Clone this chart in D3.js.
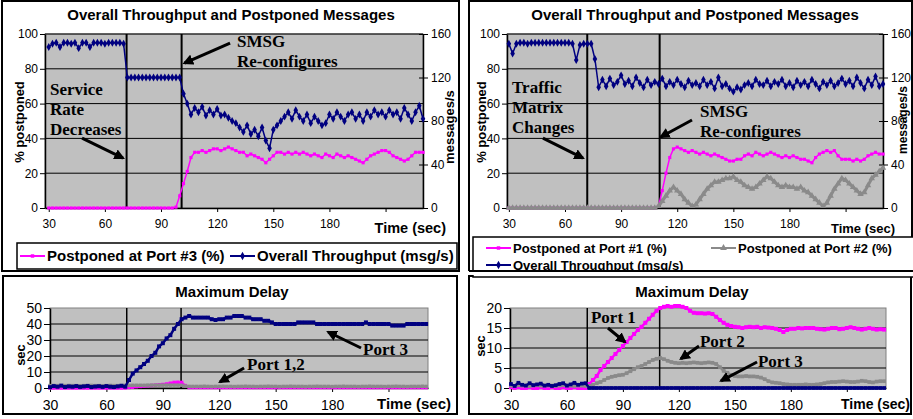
<!DOCTYPE html>
<html>
<head>
<meta charset="utf-8">
<script src="https://cdn.jsdelivr.net/npm/d3@7"></script>
<style>
  body { margin: 0; background: #fff; }
  svg { display: block; }
  .ann { font-family: "Liberation Serif", "Times New Roman", serif; font-weight: bold; font-size: 17px; }
</style>
</head>
<body>
<svg id="chart" width="913" height="419"></svg>
<script>
// sampled every 2 s, starting at t = 30 s
const tStart = 30, tStep = 2;
const xTicks = [30, 60, 90, 120, 150, 180, 210];
const xTickLabels = [30, 60, 90, 120, 150, 180];

// top left: service rate decreases
const tlThroughput = [
  148,151,152,148,152,152,151,152,147,152,
  152,148,152,152,152,151,152,152,152,152,
  151,120,120,120,120,120,120,120,120,120,
  120,120,120,120,120,120,105,96,86,92,
  88,93,85,90,86,91,85,86,83,80,
  78,74,70,76,68,72,66,74,62,55,
  72,76,80,84,88,82,90,84,80,86,
  78,84,80,76,78,86,82,88,84,80,
  86,88,82,86,80,88,84,90,86,88,
  84,90,86,88,82,92,86,80,88,94,
  82];
const tlPort3Pct = [
  0,0,0,0,0,0,0,0,0,0,
  0,0,0,0,0,0,0,0,0,0,
  0,0,0,0,0,0,0,0,0,0,
  0,0,0,0,0.5,7,14,21,29,32,
  32,33,32,33,34,34,33,34,35,34,
  33,32,32,30,31,30,29,28,26,28,
  30,32,32,31,32,31,32,31,32,31,
  30,31,30,29,31,30,29,31,30,29,
  30,29,28,27,26,28,30,31,32,33,
  33,32,30,29,28,27,28,30,32,32,
  32];

// top right: traffic matrix changes
const trThroughput = [
  151,142,151,152,152,151,152,152,152,152,
  152,152,152,152,152,152,152,151,136,150,
  151,151,151,137,111,118,112,119,113,116,
  122,114,117,112,120,115,111,118,113,116,
  114,119,112,116,113,118,114,111,117,113,
  115,112,118,113,116,110,120,112,114,110,
  107,111,109,113,115,112,118,114,113,117,
  112,116,114,118,112,115,111,117,113,116,
  112,118,114,110,116,113,117,112,115,119,
  114,117,112,120,115,110,118,113,121,112,
  114];
const trPort1Pct = [
  0,0,0,0,0,0,0,0,0,0,
  0,0,0,0,0,0,0,0,0,0,
  0,0,0,0,0,0,0,0,0,0,
  0,0,0,0,0,0,0,0,0,0,
  1,10,20,29,34,35,34,33,32,33,
  32,31,32,31,30,31,30,29,28,27,
  27,28,28,30,31,30,32,31,30,31,
  32,31,30,29,30,29,30,29,28,28,
  27,26,29,31,32,33,32,33,30,28,
  28,28,27,28,27,28,30,31,32,31,
  31];
const trPort2Pct = [
  0,0,0,0,0,0,0,0,0,0,
  0,0,0,0,0,0,0,0,0,0,
  0,0,0,0,0,0,0,0,0,0,
  0,0,0,0,0,0,0,0,0,0,
  1,4,7,10,12,10,8,5,3,1,
  2,5,8,11,13,15,15,16,17,17,
  18,16,15,13,12,11,12,14,16,18,
  17,15,13,12,13,12,12,11,12,10,
  9,7,5,3,1,3,7,11,14,17,
  16,14,12,10,8,9,13,17,19,21,
  23];

// bottom left: maximum delay (sec)
const blPort1Delay = [
  0,0,0,0,0,0,0,0,0,0,
  0,0,0,0,0,0,0,0,0,0,
  0,0.3,0.5,0.8,1,1.2,1.4,1.6,1.8,2,
  2.2,2.5,3,3.5,3.6,3.5,1.5,0.3,0.3,0.3,
  0.3,0.3,0.3,0.3,0.3,0.3,0.3,0.3,0.3,0.3,
  0.3,0.3,0.3,0.3,0.3,0.3,0.3,0.3,0.3,0.3,
  0.3,0.3,0.3,0.3,0.3,0.3,0.3,0.3,0.3,0.3,
  0.3,0.3,0.3,0.3,0.3,0.3,0.3,0.3,0.3,0.3,
  0.3,0.3,0.3,0.3,0.3,0.3,0.3,0.3,0.3,0.3,
  0.3,0.3,0.3,0.3,0.3,0.3,0.3,0.3,0.3,0.3,
  0.3];
const blPort2Delay = [
  1.5,1.6,1.5,1.4,1.5,1.6,1.5,1.5,1.4,1.5,
  1.5,1.6,1.5,1.5,1.4,1.5,1.6,1.5,1.5,1.5,
  1.6,1.6,1.7,1.7,1.7,1.7,1.8,1.8,1.8,1.8,
  1.8,1.8,1.8,1.8,1.8,1.7,1.2,1,1,1,
  1,1.1,1,0.9,1,1,1.1,1,1,0.9,
  1,1,1.1,1,1,0.9,1,1,1.1,1,
  1,0.9,1,1,1.1,1,1,1,0.9,1,
  1,1.1,1,1,1,0.9,1,1,1.1,1,
  1,1,0.9,1,1,1.1,1,1,1,0.9,
  1,1,1.1,1,1,0.9,1,1,1,1.1,
  1];
const blPort3Delay = [
  0.5,1.2,0.8,1.5,0.6,1,0.8,1.2,0.7,1,
  1.3,0.6,0.9,1.1,0.7,1.2,0.8,0.6,1,1.4,
  0.8,5,9,11,13,15,17,20,22,26,
  28,31,33,37,40,43,44,45,44,44,
  44,44,44,43,42.5,43,43,44,44,45,
  45,45,44,44,43,43,43,42,42,41,
  40,40,40,40,40,40,41,41,41,41,
  41,40,40,40,40,40,40,40,40,40,
  40,40,40,40,41,40,40,40,40,40,
  40,39,39,39,39,40,40,40,40,40,
  40];

// bottom right: maximum delay (sec)
const brPort1Delay = [
  0.2,0,0.2,0,0,0.2,0,0,0.2,0,
  0,0.2,0,0,0.2,0,0,0.2,0,0,
  0,1,2,3,4.5,5.5,6.5,7.5,8.5,9.5,
  10.5,11.5,12.5,13.5,14.5,15.3,16.3,17.3,18.3,19.3,
  20,20.3,20.5,20.3,20.5,20.5,20.3,20,19.3,18.8,
  18.7,18.7,18.6,18.7,18.5,17.8,17,16.3,15.8,15.5,
  15.3,15.2,15,15.2,15.3,15.2,15.3,15,15.2,15.1,
  15,14.8,14.5,14,14.5,14.8,14.8,15,14.9,15,
  15,15,14.8,14.7,14.6,14.8,15,15,14.7,14.8,
  15,15.2,15,14.8,14.6,14.8,15,14.8,14.6,14.7,
  14.6];
const brPort2Delay = [
  0.6,0.5,0.7,0.6,0.6,0.5,0.6,0.7,0.6,0.6,
  0.6,0.6,0.5,0.6,0.7,0.6,0.6,0.5,0.6,0.6,
  0.5,0.5,0.8,1.2,1.5,2,2.5,2.8,3,3.2,
  3.3,3.7,4.2,4.7,5.2,5.5,6,6.5,7,7.3,
  7.5,7.2,6.8,6.5,6.3,6.2,6.3,6.2,6.3,6.4,
  6.3,6.2,6.3,6.4,6.3,6,5.2,4.3,3.8,3.3,
  3,2.9,2.9,3,2.9,2.9,2.8,2.6,2.2,1.7,
  1.4,1.3,1.2,1,0.9,0.8,0.8,0.8,0.8,0.9,
  0.8,0.8,0.9,1,1.2,1.4,1.5,1.5,1.6,1.7,
  1.6,1.5,1.5,1.6,1.8,1.7,1.5,1.4,1.6,1.7,
  1.7];
const brPort3Delay = [
  1,0.5,1.3,0.8,0.6,1.2,0.7,0.9,1.1,0.6,
  0.8,0.5,0.7,1,1.2,0.6,0.9,1.3,0.8,1.1,
  1.2,0,0,0,0,0,0,0,0,0,
  0,0,0,0,0,0,0,0,0,0,
  0,0,0,0,0,0,0,0,0,0,
  0,0,0,0,0,0,0,0,0,0,
  0,0,0,0,0,0,0,0,0,0,
  0,0,0,0,0,0,0,0,0,0,
  0,0,0,0,0,0,0,0,0,0,
  0,0,0,0,0,0,0,0,0,0,
  0];

const sans = '"Liberation Sans", Arial, sans-serif';
const MAGENTA = "#ff00ff", NAVY = "#000080", GRAY = "#8a8a8a";

let svg = d3.select("#chart");

svg.append("defs").append("marker")
  .attr("id", "arrow")
  .attr("viewBox", "0 0 10 10")
  .attr("refX", 8).attr("refY", 5)
  .attr("markerWidth", 3.6).attr("markerHeight", 3.6)
  .attr("orient", "auto")
  .append("path").attr("d", "M0,0L10,5L0,10z").attr("fill", "#000");

function panelBox(x, y, w, h) {
  svg.append("rect")
    .attr("x", x).attr("y", y).attr("width", w).attr("height", h)
    .attr("fill", "#fff").attr("stroke", "#000").attr("stroke-width", 2);
}

function drawPlot(p) {
  let g = svg.append("g");
  let x = d3.scaleLinear().domain(p.xDomain).range([p.x0, p.x1]);
  let y = d3.scaleLinear().domain(p.yDomain).range([p.y1, p.y0]);
  let y2 = p.y2Domain ? d3.scaleLinear().domain(p.y2Domain).range([p.y1, p.y0]) : null;

  g.append("rect")
    .attr("x", p.x0).attr("y", p.y0)
    .attr("width", p.x1 - p.x0).attr("height", p.y1 - p.y0)
    .attr("fill", "#c0c0c0").attr("stroke", "#808080");

  g.selectAll(".grid")
    .data(p.yTicks.filter(d => d > p.yDomain[0] && (p.topGrid || d < p.yDomain[1])))
    .join("line")
    .attr("x1", p.x0).attr("x2", p.x1)
    .attr("y1", d => y(d)).attr("y2", d => y(d))
    .attr("stroke", "#000");

  g.selectAll(".event").data(p.events).join("line")
    .attr("x1", d => x(d)).attr("x2", d => x(d))
    .attr("y1", p.y0).attr("y2", p.y1)
    .attr("stroke", "#000").attr("stroke-width", p.eventWidth);

  let left = g.append("g")
    .attr("transform", "translate(" + p.x0 + ",0)")
    .call(d3.axisLeft(y).tickValues(p.yTicks).tickSize(p.tickLen).tickSizeOuter(0).tickPadding(2));
  let bottom = g.append("g")
    .attr("transform", "translate(0," + p.y1 + ")")
    .call(d3.axisBottom(x).tickValues(xTicks).tickSize(4).tickSizeOuter(0).tickPadding(p.xPad)
      .tickFormat(d => xTickLabels.includes(d) ? d : ""));
  let axes = [left, bottom];
  if (y2) {
    let right = g.append("g")
      .attr("transform", "translate(" + p.x1 + ",0)")
      .call(d3.axisRight(y2).tickValues(p.y2Ticks).tickSize(5).tickSizeOuter(0).tickPadding(3));
    right.selectAll(".tick line").attr("x1", -4);
    axes.push(right);
  }
  axes.forEach(a => {
    a.attr("font-family", sans).attr("font-size", p.tickFont);
    a.select(".domain").attr("stroke", "#000").attr("stroke-width", 1.5);
    a.selectAll("text").attr("fill", "#000");
  });
  return {g, x, y, y2};
}

function drawSeries(s, yScale, vals, color, width, symbol, size) {
  let pts = vals.map((v, i) => [tStart + i * tStep, v]);
  let line = d3.line().x(d => s.x(d[0])).y(d => yScale(d[1]));
  s.g.append("path").datum(pts)
    .attr("d", line).attr("fill", "none")
    .attr("stroke", color).attr("stroke-width", width).attr("stroke-linejoin", "round");
  s.g.append("g").selectAll("path").data(pts).join("path")
    .attr("transform", d => "translate(" + s.x(d[0]) + "," + yScale(d[1]) + ")")
    .attr("d", d3.symbol(symbol, size))
    .attr("fill", color);
}

function label(txt, x, y, opts) {
  let t = svg.append("text")
    .attr("x", x).attr("y", y)
    .attr("font-family", sans)
    .attr("font-size", opts.size)
    .attr("font-weight", opts.bold ? "bold" : "normal")
    .attr("text-anchor", opts.anchor || "start")
    .text(txt);
  if (opts.rotate) t.attr("transform", "rotate(-90," + x + "," + y + ")");
  return t;
}

function annotate(s, lines, pos) {
  let t = svg.append("text").attr("class", "ann")
    .attr("x", s.x(pos[0])).attr("y", s.y(pos[1]));
  lines.forEach((l, i) => t.append("tspan").attr("x", s.x(pos[0])).attr("dy", i ? 20 : 0).text(l));
}

function arrow(s, from, to) {
  svg.append("line")
    .attr("x1", s.x(from[0])).attr("y1", s.y(from[1]))
    .attr("x2", s.x(to[0])).attr("y2", s.y(to[1]))
    .attr("stroke", "#000").attr("stroke-width", 3)
    .attr("marker-end", "url(#arrow)");
}

function legendEntry(x, y, color, symbol, size, txt, fontSize) {
  svg.append("line").attr("x1", x).attr("x2", x + 25).attr("y1", y).attr("y2", y)
    .attr("stroke", color).attr("stroke-width", 2);
  svg.append("path").attr("transform", "translate(" + (x + 12.5) + "," + y + ")")
    .attr("d", d3.symbol(symbol, size)).attr("fill", color);
  svg.append("text").attr("x", x + 27).attr("y", y + fontSize * 0.36)
    .attr("font-family", sans).attr("font-size", fontSize).attr("font-weight", "bold")
    .text(txt);
}

// panels
panelBox(2, 1, 457, 270);
panelBox(469, 1, 443, 270);
panelBox(3, 276, 454, 138);
panelBox(469, 276, 442, 138);

// ---- top left
let tl = drawPlot({x0: 45, x1: 423, y0: 34, y1: 208, xDomain: [28, 230],
  yDomain: [0, 100], yTicks: [0, 20, 40, 60, 80, 100], topGrid: true,
  y2Domain: [0, 160], y2Ticks: [0, 40, 80, 120, 160],
  events: [71.6, 101], eventWidth: 2, tickFont: 12, tickLen: 5, xPad: 7});
drawSeries(tl, tl.y, tlPort3Pct, MAGENTA, 1.5, d3.symbolSquare, 10);
drawSeries(tl, tl.y2, tlThroughput, NAVY, 1.5, d3.symbolDiamond, 18);
label("Overall Throughput and Postponed Messages", 231, 20, {size: 15, bold: true, anchor: "middle"});
label("% postponed", 24, 122, {size: 13, bold: true, anchor: "middle", rotate: true});
label("messages/s", 454, 127, {size: 13, bold: true, anchor: "middle", rotate: true});
label("Time (sec)", 446, 233, {size: 14.5, bold: true, anchor: "end"});
annotate(tl, ["SMSG", "Re-configures"], [130.6, 92.5]);
arrow(tl, [126.9, 94.8], [102.5, 83.3]);
annotate(tl, ["Service", "Rate", "Decreases"], [30.7, 65]);
arrow(tl, [47.8, 40.2], [69.7, 28.7]);
svg.append("rect").attr("x", 17).attr("y", 243).attr("width", 440).attr("height", 26)
  .attr("fill", "#fff").attr("stroke", "#000").attr("stroke-width", 1.5);
legendEntry(20, 256, MAGENTA, d3.symbolSquare, 12, "Postponed at Port #3 (%)", 15);
legendEntry(230, 256, NAVY, d3.symbolDiamond, 20, "Overall Throughput (msg/s)", 15);

// ---- top right
let tr = drawPlot({x0: 507, x1: 883, y0: 34, y1: 208, xDomain: [29, 230],
  yDomain: [0, 100], yTicks: [0, 20, 40, 60, 80, 100], topGrid: true,
  y2Domain: [0, 160], y2Ticks: [0, 40, 80, 120, 160],
  events: [71.9, 110.6], eventWidth: 2, tickFont: 12, tickLen: 5, xPad: 7});
drawSeries(tr, tr.y, trPort1Pct, MAGENTA, 1.5, d3.symbolSquare, 10);
drawSeries(tr, tr.y, trPort2Pct, GRAY, 3, d3.symbolTriangle, 18);
drawSeries(tr, tr.y2, trThroughput, NAVY, 1.5, d3.symbolDiamond, 18);
label("Overall Throughput and Postponed Messages", 695, 20, {size: 15, bold: true, anchor: "middle"});
label("% postponed", 486, 122, {size: 13, bold: true, anchor: "middle", rotate: true});
label("messages/s", 907, 120, {size: 12, bold: true, anchor: "middle", rotate: true});
label("Time (sec)", 895, 233, {size: 13, bold: true, anchor: "end"});
annotate(tr, ["Traffic", "Matrix", "Changes"], [31.7, 66]);
arrow(tr, [48.2, 40.2], [69.6, 28.7]);
annotate(tr, ["SMSG", "Re-configures"], [132.2, 52.3]);
arrow(tr, [127.9, 50.6], [111.2, 40.8]);
svg.append("rect").attr("x", 473).attr("y", 237).attr("width", 460).attr("height", 40)
  .attr("fill", "#fff").attr("stroke", "#000").attr("stroke-width", 1.5);
legendEntry(486, 248, MAGENTA, d3.symbolSquare, 12, "Postponed at Port #1 (%)", 13);
legendEntry(711, 248, GRAY, d3.symbolTriangle, 20, "Postponed at Port #2 (%)", 13);
legendEntry(486, 265, NAVY, d3.symbolDiamond, 20, "Overall Throughput (msg/s)", 13);
// cover the legend overflow below the top panels
svg.append("rect").attr("x", 460).attr("y", 271).attr("width", 453).attr("height", 4).attr("fill", "#fff");
svg.append("line").attr("x1", 469).attr("x2", 913).attr("y1", 271).attr("y2", 271)
  .attr("stroke", "#000").attr("stroke-width", 2);

// ---- bottom left
let bl = drawPlot({x0: 50, x1: 428, y0: 308, y1: 388, xDomain: [30, 231],
  yDomain: [0, 50], yTicks: [0, 10, 20, 30, 40, 50], topGrid: false,
  events: [70.8, 99.7], eventWidth: 1.5, tickFont: 14, tickLen: 6, xPad: 8});
drawSeries(bl, bl.y, blPort1Delay, MAGENTA, 2, d3.symbolSquare, 12);
drawSeries(bl, bl.y, blPort2Delay, GRAY, 2, d3.symbolSquare, 12);
drawSeries(bl, bl.y, blPort3Delay, NAVY, 2.5, d3.symbolSquare, 16);
label("Maximum Delay", 232, 297, {size: 15, bold: true, anchor: "middle"});
label("sec", 25, 355, {size: 13, bold: true, anchor: "middle", rotate: true});
label("Time (sec)", 451, 409, {size: 15, bold: true, anchor: "end"});
annotate(bl, ["Port 3"], [196.5, 20.6]);
arrow(bl, [195.4, 25], [177.9, 35]);
annotate(bl, ["Port 1,2"], [134.8, 11.2]);
arrow(bl, [133.2, 12.5], [120.4, 3.8]);

// ---- bottom right
let br = drawPlot({x0: 510, x1: 886, y0: 308, y1: 388, xDomain: [29.5, 231],
  yDomain: [0, 20], yTicks: [0, 5, 10, 15, 20], topGrid: false,
  events: [70.9, 109.7], eventWidth: 1.5, tickFont: 14, tickLen: 6, xPad: 8});
drawSeries(br, br.y, brPort1Delay, MAGENTA, 2.5, d3.symbolSquare, 16);
drawSeries(br, br.y, brPort2Delay, GRAY, 2.5, d3.symbolSquare, 14);
drawSeries(br, br.y, brPort3Delay, NAVY, 2.5, d3.symbolSquare, 14);
label("Maximum Delay", 692, 297, {size: 15, bold: true, anchor: "middle"});
label("sec", 485, 346, {size: 13, bold: true, anchor: "middle", rotate: true});
label("Time (sec)", 910, 409, {size: 14, bold: true, anchor: "end"});
annotate(br, ["Port 1"], [72.9, 16.2]);
arrow(br, [82, 15], [91.1, 11.5]);
annotate(br, ["Port 2"], [131.3, 10.2]);
arrow(br, [130.8, 10.5], [121.1, 7.3]);
annotate(br, ["Port 3"], [162.4, 5.2]);
arrow(br, [161.9, 6.5], [142.6, 1.8]);
</script>
</body>
</html>
